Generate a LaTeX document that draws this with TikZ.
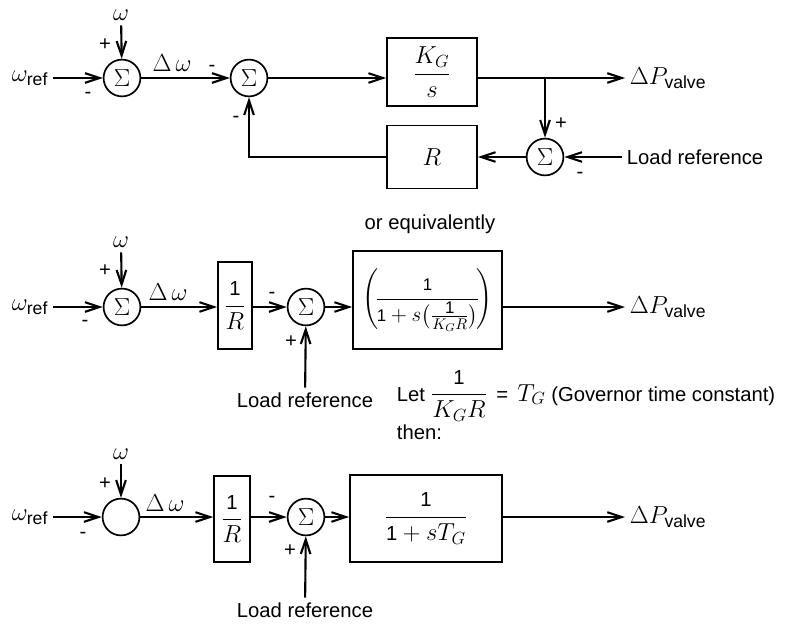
\documentclass[tikz,border=0pt]{standalone}
\usepackage{fix-cm}
\usepackage{amsmath}
\usepackage{fontspec}
\setmainfont{Liberation Sans}
\DeclareMathSizes{14.4}{17.5}{12.5}{9}
\DeclareMathSizes{12}{15}{11}{8}
\usetikzlibrary{arrows.meta}

\begin{document}
\begin{tikzpicture}[x=0.025cm,y=-0.025cm,font=\fontsize{14.4}{17}\selectfont,
    >={Straight Barb[length=3.6mm,width=2.4mm]},
    sig/.style={->,line width=1.5pt},
    sumnode/.style={draw,circle,line width=1.2pt,minimum size=0.92cm,inner sep=0pt},
    blk/.style={draw,line width=1.1pt,inner sep=0pt},
    sgn/.style={inner sep=0pt}]
  \useasboundingbox (0,0) rectangle (800,624);

  % first loop
  \node (w1) at (121,15) {$\omega$};
  \node (wref1) at (30,78) {$\omega_{\text{ref}}$};
  \node[sumnode] (s1) at (122,78) {$\Sigma$};
  \node[sgn] (p1) at (105,45) {+};
  \node[sgn] (m1) at (88,95) {-};
  \node (dw1) at (172,63) {$\Delta\,\omega$};
  \node[sumnode] (s2) at (249,78) {$\Sigma$};
  \node[sgn] (m2) at (212,68) {-};
  \node[sgn] (m3) at (236,119) {-};
  \node[blk,minimum width=2.25cm,minimum height=1.7cm] (kg) at (432,72) {$\dfrac{K_G}{s}$};
  \node[anchor=west] (pv1) at (625,78) {$\Delta P_{\text{valve}}$};
  \coordinate (br1) at (545,78);
  \node[sumnode] (s3) at (545,157) {$\Sigma$};
  \node[sgn] (p2) at (561,124) {+};
  \node[sgn] (m4) at (580,175) {-};
  \node[anchor=west] (lr1) at (622,157) {Load reference};
  \node[blk,minimum width=2.25cm,minimum height=1.575cm] (rb) at (432,157) {$R$};
  \draw[sig] (w1) -- (s1);
  \draw[sig] (wref1) -- (s1);
  \draw[sig] (s1) -- (s2);
  \draw[sig] (s2) -- (s2 -| kg.west);
  \draw[sig] (s2 -| kg.east) -- (pv1.west);
  \draw[sig] (br1) -- (s3);
  \draw[sig] (lr1) -- (s3);
  \draw[sig] (s3) -- (rb);
  \draw[sig] (rb.west) -| (s2);

  \node (oreq) at (430,224) {or equivalently};

  % second form
  \node (w2) at (121,242) {$\omega$};
  \node (wref2) at (30,307) {$\omega_{\text{ref}}$};
  \node[sumnode] (s4) at (122,307) {$\Sigma$};
  \node[sgn] (p3) at (105,271) {+};
  \node[sgn] (m5) at (85,323) {-};
  \node (dw2) at (168,292) {$\Delta\,\omega$};
  \node[blk,minimum width=0.85cm,minimum height=2.175cm] (ir1) at (235,305.5) {$\dfrac{\mbox{1}}{R}$};
  \node[sumnode] (s5) at (306,307) {$\Sigma$};
  \node[sgn] (m6) at (272,295) {-};
  \node[sgn] (p4) at (291,342) {+};
  \node (lr2) at (305,400) {Load reference};
  \node[blk,minimum width=3.725cm,minimum height=2.45cm,font=\fontsize{12}{14}\selectfont] (gb) at (427.5,300)
    {$\left(\!\dfrac{\mbox{1}}{\mbox{1}+s\bigl(\frac{\mbox{1}}{K_G R}\bigr)}\!\right)$};
  \node[anchor=west] (pv2) at (625,307) {$\Delta P_{\text{valve}}$};
  \draw[sig] (w2) -- (s4);
  \draw[sig] (wref2) -- (s4);
  \draw[sig] (s4) -- (s4 -| ir1.west);
  \draw[sig] (s4 -| ir1.east) -- (s5);
  \draw[sig] (lr2) -- (s5);
  \draw[sig] (s5) -- (s5 -| gb.west);
  \draw[sig] (s5 -| gb.east) -- (pv2.west);

  \node[anchor=west] (let) at (392,396) {Let $\dfrac{\mbox{1}}{K_G R}$ \,=\, $T_G$ (Governor time constant)};
  \node[anchor=west] (thn) at (392,432) {then:};

  % third form
  \node (w3) at (121,454) {$\omega$};
  \node (wref3) at (30,517) {$\omega_{\text{ref}}$};
  \node[sumnode] (s6) at (121,517) {};
  \node[sgn] (p5) at (105,484) {+};
  \node[sgn] (m7) at (83,535) {-};
  \node (dw3) at (165,503) {$\Delta\,\omega$};
  \node[blk,minimum width=0.9cm,minimum height=2.15cm] (ir2) at (232,519) {$\dfrac{\mbox{1}}{R}$};
  \node[sumnode] (s7) at (306,517) {$\Sigma$};
  \node[sgn] (m8) at (272,499) {-};
  \node[sgn] (p6) at (290,551) {+};
  \node (lr3) at (305,610) {Load reference};
  \node[blk,minimum width=3.8cm,minimum height=2.175cm] (tg) at (426,518.5) {$\dfrac{\mbox{1}}{\mbox{1}+sT_G}$};
  \node[anchor=west] (pv3) at (625,517) {$\Delta P_{\text{valve}}$};
  \draw[sig] (w3) -- (s6);
  \draw[sig] (wref3) -- (s6);
  \draw[sig] (s6) -- (s6 -| ir2.west);
  \draw[sig] (s6 -| ir2.east) -- (s7);
  \draw[sig] (lr3) -- (s7);
  \draw[sig] (s7) -- (s7 -| tg.west);
  \draw[sig] (s7 -| tg.east) -- (pv3.west);
\end{tikzpicture}
\end{document}
